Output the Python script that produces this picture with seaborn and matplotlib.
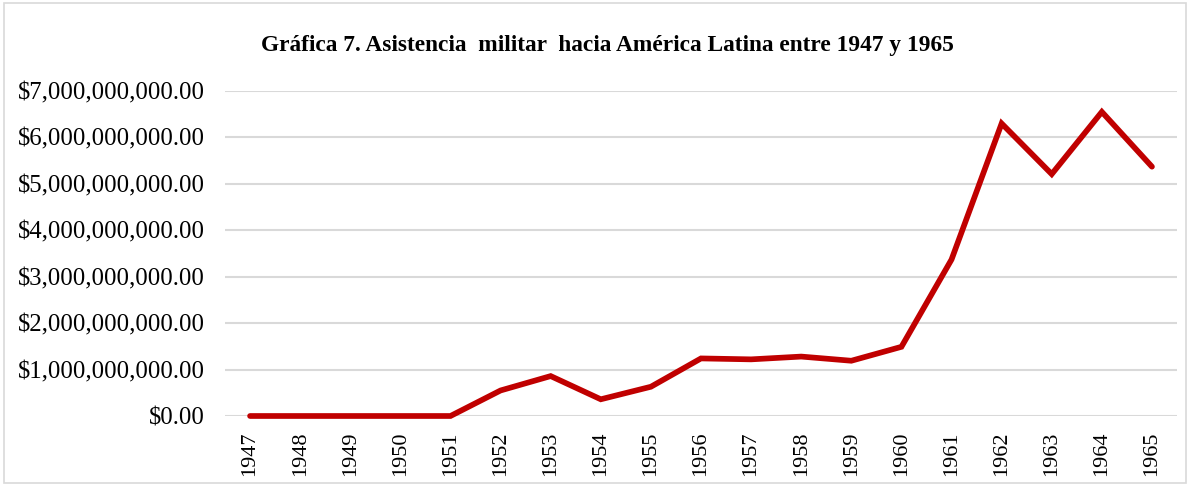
import matplotlib
matplotlib.use("Agg")
import matplotlib.pyplot as plt
import seaborn as sns
import pandas as pd
from matplotlib.ticker import FuncFormatter
from matplotlib.patches import Rectangle

years = ["1947", "1948", "1949", "1950", "1951", "1952", "1953", "1954", "1955", "1956",
         "1957", "1958", "1959", "1960", "1961", "1962", "1963", "1964", "1965"]
values = [0, 0, 0, 0, 0, 0.55e9, 0.86e9, 0.36e9, 0.63e9, 1.24e9,
          1.22e9, 1.28e9, 1.19e9, 1.49e9, 3.37e9, 6.30e9, 5.21e9, 6.55e9, 5.37e9]
title = "Gráfica 7. Asistencia  militar  hacia América Latina entre 1947 y 1965"

sns.set_theme(style="white")
plt.rcParams['font.family'] = ['Liberation Serif', 'DejaVu Serif']

df = pd.DataFrame({"year": years, "value": values})

fig = plt.figure(figsize=(11.9, 4.86), dpi=100)
ax = fig.add_axes([225/1190, 1 - 416/486, (1177 - 225)/1190, (416 - 91)/486])

ax.set_ylim(0, 7e9)
ax.set_yticks([i * 1e9 for i in range(8)])
ax.grid(axis="y", color="#D9D9D9", linewidth=1.5)
ax.set_axisbelow(True)

sns.lineplot(data=df, x="year", y="value", ax=ax, color="#C00000", linewidth=4.1,
             sort=False, solid_capstyle="round", solid_joinstyle="miter")
for l in ax.lines:
    l.set_clip_on(False)

ax.set_xlim(-0.5, len(years) - 0.5)
ax.set_xlabel("")
ax.set_ylabel("")
for s in ax.spines.values():
    s.set_visible(False)

ax.yaxis.set_major_formatter(FuncFormatter(lambda v, p: "${:,.2f}".format(v)))
ax.tick_params(axis="y", length=0, pad=14.5, labelsize=17.8, labelcolor="black")
ax.tick_params(axis="x", length=0, pad=11, labelsize=16, labelcolor="black", rotation=90)

fig.text(607/1190, 1 - 45/486, title, ha="center", va="center",
         fontsize=16.8, fontweight="bold", color="black")

fig.patches.append(Rectangle((4/1190, 3/486), 1 - 8/1190, 1 - 6/486, transform=fig.transFigure,
                             fill=False, edgecolor="#D9D9D9", linewidth=1.2))

fig.savefig("out.png", dpi=100)
